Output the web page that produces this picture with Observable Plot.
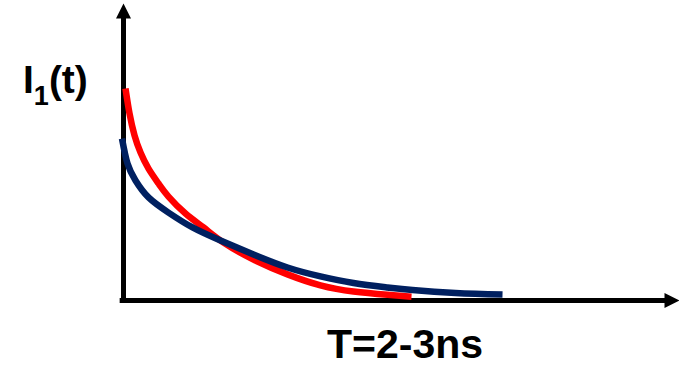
<!DOCTYPE html>
<html>
<head>
<meta charset="utf-8">
<script src="https://cdn.jsdelivr.net/npm/d3@7"></script>
<script src="https://cdn.jsdelivr.net/npm/@observablehq/plot@0.6"></script>
<style>
  html, body { margin: 0; padding: 0; background: #fff; }
  #chart { width: 679px; height: 367px; }
</style>
</head>
<body>
<div id="chart"></div>
<script>
// Red decay curve (time, intensity) in arbitrary units
const redT = [0.036, 0.108, 0.198, 0.306, 0.450, 0.629, 0.809, 1.115, 1.439, 1.799, 2.338, 2.950, 3.543, 4.137, 4.748, 5.180];
const redI = [7.14, 6.30, 5.56, 4.98, 4.44, 3.94, 3.50, 2.93, 2.46, 1.95, 1.38, 0.88, 0.51, 0.30, 0.19, 0.13];
// Blue decay curve
const blueT = [-0.027, 0.072, 0.216, 0.450, 0.809, 1.241, 1.745, 2.338, 2.950, 3.543, 4.137, 4.748, 5.198, 5.971, 6.817];
const blueI = [5.45, 4.61, 4.04, 3.47, 2.96, 2.46, 2.02, 1.55, 1.11, 0.81, 0.59, 0.44, 0.35, 0.25, 0.20];
// Text labels
const yLabel = ["I", "1", "(t)"];
const xLabel = "T=2-3ns";

const red = d3.zip(redT, redI).map(([t, i]) => ({t, i}));
const blue = d3.zip(blueT, blueI).map(([t, i]) => ({t, i}));

// arrowhead symbols with the tip at the origin
const triUp = {draw(ctx, size) { const k = Math.sqrt(size / Math.PI); ctx.moveTo(0, 0); ctx.lineTo(k, 2 * k); ctx.lineTo(-k, 2 * k); ctx.closePath(); }};
const triRight = {draw(ctx, size) { const k = Math.sqrt(size / Math.PI); ctx.moveTo(0, 0); ctx.lineTo(-2 * k, k); ctx.lineTo(-2 * k, -k); ctx.closePath(); }};

const plot = Plot.plot({
  width: 679,
  height: 367,
  marginLeft: 123,
  marginRight: 0,
  marginTop: 3,
  marginBottom: 67,
  x: {domain: [0, 10], axis: null},
  y: {domain: [0, 10], axis: null},
  style: {background: "#fff"},
  marks: [
    Plot.ruleX([0], {y1: 0, y2: 9.6, stroke: "#000", strokeWidth: 5, strokeLinecap: "butt"}),
    Plot.ruleY([0], {x1: -0.06, x2: 9.8, stroke: "#000", strokeWidth: 5, strokeLinecap: "butt"}),
    Plot.dot([{x: 0, y: 10}], {x: "x", y: "y", symbol: triUp, r: 7.5, fill: "#000", stroke: "none"}),
    Plot.dot([{x: 10, y: 0}], {x: "x", y: "y", symbol: triRight, r: 7.5, fill: "#000", stroke: "none"}),
    Plot.line(red, {x: "t", y: "i", stroke: "#ff0000", strokeWidth: 6.5, curve: "natural", strokeLinecap: "butt"}),
    Plot.line(blue, {x: "t", y: "i", stroke: "#002060", strokeWidth: 6.5, curve: "natural", strokeLinecap: "butt"})
  ]
});
document.getElementById("chart").append(plot);

const svg = d3.select(plot);
const font = "'Liberation Sans', Arial, sans-serif";
const yl = svg.append("text")
  .attr("x", 23).attr("y", 93)
  .attr("text-anchor", "start")
  .attr("font-family", font).attr("font-weight", "bold").attr("font-size", 39).attr("fill", "#000");
yl.append("tspan").text(yLabel[0]);
yl.append("tspan").attr("font-size", 27).attr("dy", 12).text(yLabel[1]);
yl.append("tspan").attr("dy", -12).text(yLabel[2]);

svg.append("text")
  .attr("x", 405).attr("y", 358)
  .attr("text-anchor", "middle")
  .attr("font-family", font).attr("font-weight", "bold").attr("font-size", 41).attr("fill", "#000")
  .text(xLabel);
</script>
</body>
</html>
